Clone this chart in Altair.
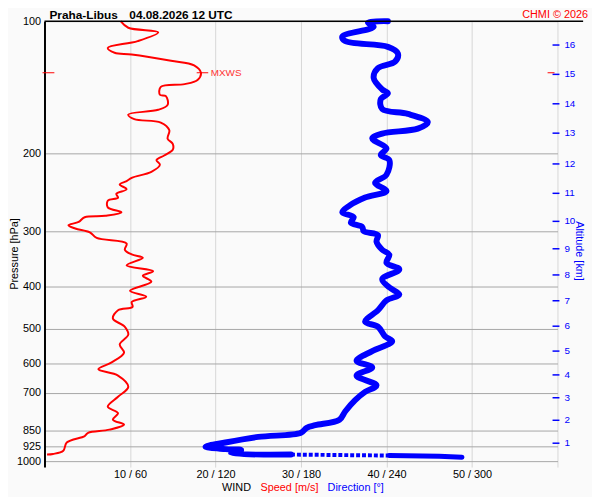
import altair as alt
import pandas as pd

# ---------------- data ----------------
# wind speed profile (pressure hPa, speed m/s)
speed_p = [100, 103.5, 106, 111, 115, 118, 119, 123, 126, 131, 136, 139, 141, 147, 148,
           155, 159, 163, 167, 170, 177, 185, 190, 196, 202, 207, 212, 220, 227, 231,
           235, 241, 247, 252, 256, 265, 272, 277, 279, 286, 291, 296, 302, 311, 320,
           331, 339, 345, 359, 370, 379, 391, 410, 423, 435, 446, 454, 474, 495, 516,
           543, 567, 597, 618, 639, 678, 714, 752, 778, 805, 826, 848, 862, 877, 907,
           947, 963, 966]
speed = [8.9, 9.8, 13.3, 10.9, 7.4, 8.2, 10.2, 14.8, 17.5, 18.3, 17.9, 16.4, 13.6, 13.5, 14.2,
         14.4, 13.3, 9.8, 10.5, 13.6, 14.6, 14.4, 15.0, 15.0, 14.0, 13.1, 13.5, 12.5, 10.2, 9.6,
         8.8, 9.6, 8.4, 8.6, 7.4, 7.4, 9.0, 7.1, 4.7, 4.0, 2.8, 3.6, 5.3, 6.1, 9.6,
         9.4, 10.2, 11.5, 9.6, 12.7, 11.5, 12.5, 10.0, 11.9, 10.2, 10.3, 8.6, 8.0, 9.4, 9.8,
         8.8, 9.3, 7.8, 6.3, 8.6, 9.8, 8.6, 7.4, 8.6, 8.0, 9.3, 7.6, 5.1, 4.7, 2.6,
         2.2, 1.0, 0.3]

# wind direction profile (pressure hPa, direction deg)
dir_p = [100, 100.7, 103, 108.4, 111, 114.4, 118.4, 123.6, 127.9, 134.6, 143, 145.9, 150.4,
         158.4, 162.5, 169.6, 175.5, 180.1, 184.8, 194.5, 201.4, 206.9, 223.4, 233.1, 243.2,
         251.7, 262.6, 271.8, 278.9, 287.1, 293.6, 300.2, 306.4, 317, 330.8, 339.4, 354.3,
         366.6, 385.8, 402.9, 418.2, 431.2, 453.9, 482.1, 494.6, 520.6, 534.1, 562.2, 591.7,
         612.1, 639.1, 672.6, 695.9, 726.5, 771.1, 805.2, 828.7, 840.2, 861.9, 881, 907.2,
         927.5, 938.9, 943.7, 959.8, 966.2, 971.2, 974.7, 979.7]
direction = [241, 227, 231, 209, 211, 241, 248, 246, 234, 231, 237, 241, 236,
             237, 255, 269, 262, 237, 230, 240, 236, 242, 240, 232, 240,
             225, 214, 209, 217, 215, 223, 224, 234, 233, 237, 242, 240,
             249, 237, 242, 249, 240, 234, 225, 234, 239, 244, 230, 219,
             230, 219, 233, 225, 218, 211, 207, 190, 184, 180, 150, 127,
             113, 127, 138, 131, 173, 242, 277, 293]

# altitude marks (km) and the pressure level where each one sits
alt_km = [1, 2, 3, 4, 5, 6, 7, 8, 9, 10, 11, 12, 13, 14, 15, 16]
alt_p = [910.4, 807.5, 717.7, 636.8, 562.2, 493.5, 432.0, 377.4, 329.1, 285.1,
         246.2, 211.1, 179.7, 154.1, 132.1, 113.3]

# maximum wind
mxws_p = [131]
mxws_speed = [18.3]
mxws_label = ["MXWS"]

p_ticks = [100, 200, 300, 400, 500, 600, 700, 850, 925, 1000]
speed_ticks = [10, 20, 30, 40, 50, 60]

title_station = ["Praha-Libus"]
title_time = ["04.08.2026 12 UTC"]
credit = ["CHMI © 2026"]
bottom_wind = ["WIND"]
bottom_speed = ["Speed [m/s]"]
bottom_dir = ["Direction [°]"]
y_title = ["Pressure [hPa]"]
alt_title = ["Altitude [km]"]

# ---------------- chart ----------------
FONT = "Liberation Sans"
W, H = 520, 452
P_MAX = 1031.5

xs = alt.Scale(domain=[0, 60], nice=False, zero=False)
ys = alt.Scale(type="log", domain=[100, P_MAX], reverse=True, nice=False)

sp = pd.DataFrame({"p": speed_p, "v": speed, "i": list(range(len(speed)))})
dr = pd.DataFrame({"p": dir_p, "d": direction, "i": list(range(len(direction)))})

x_axis = alt.Axis(values=speed_ticks,
                  labelExpr="datum.value < 60 ? datum.value + ' / ' + datum.value * 6 : ''",
                  grid=True, gridColor="#d6d6d6", gridWidth=1, domain=False, ticks=False,
                  labelFont=FONT, labelFontSize=11, labelColor="black", labelPadding=2,
                  labelFlush=False, title=None)
y_axis = alt.Axis(values=p_ticks, format="d", grid=True, gridColor="#a6a6a6", gridWidth=1,
                  domainColor="black", domainWidth=2, ticks=False, labelOverlap=False,
                  labelFont=FONT, labelFontSize=11, labelColor="black", labelPadding=4,
                  title=None)


def xpos(field="v"):
    return alt.X(f"{field}:Q", scale=xs, axis=x_axis)


def ypos():
    return alt.Y("p:Q", scale=ys, axis=y_axis)


def blue_line(df, **kw):
    return (alt.Chart(df)
            .transform_calculate(v="datum.d / 6")
            .mark_line(color="#0000ff", strokeJoin="round", **kw)
            .encode(x=xpos(), y=ypos(), order="i:Q"))


blue_a = blue_line(dr.iloc[:66], strokeWidth=6, strokeCap="round", interpolate="catmull-rom")
blue_b = blue_line(dr.iloc[65:67], strokeWidth=4, strokeDash=[4, 2], strokeCap="butt")
blue_c = blue_line(dr.iloc[66:], strokeWidth=5, strokeCap="round")

red = alt.Chart(sp).mark_line(color="#ff0000", strokeWidth=2, strokeJoin="round",
                              interpolate="catmull-rom").encode(
    x=xpos(), y=ypos(), order="i:Q")

altdf = pd.DataFrame({"p": alt_p, "km": alt_km})
alt_ticks = alt.Chart(altdf).mark_rule(color="#0000ff", strokeWidth=1.5).encode(
    y=ypos(), x=alt.value(515), x2=alt.value(522))
alt_labels = alt.Chart(altdf).mark_text(color="#0000ff", align="left", baseline="middle",
                                        font=FONT, fontSize=10).encode(
    y=ypos(), x=alt.value(527), text="km:Q")

mx = pd.DataFrame({"p": mxws_p, "v": mxws_speed, "label": mxws_label})
mx_left = alt.Chart(mx).mark_rule(color="#ff0000", strokeWidth=1).encode(
    y=ypos(), x=alt.value(-2), x2=alt.value(10))
mx_right = alt.Chart(mx).mark_rule(color="#ff0000", strokeWidth=1).encode(
    y=ypos(), x=alt.value(510), x2=alt.value(517))
mx_line = (alt.Chart(mx)
           .transform_calculate(a="datum.v - 0.5", b="datum.v + 0.85")
           .mark_rule(color="#ff0000", strokeWidth=1)
           .encode(x=xpos("a"), x2="b:Q", y=ypos()))
mx_text = alt.Chart(mx).mark_text(color="#ff3333", align="left", baseline="middle",
                                  font=FONT, fontSize=10, dx=10).encode(
    x=xpos(), y=ypos(), text="label:N")

top_line = alt.Chart(pd.DataFrame({"a": [0]})).mark_rule(color="black", strokeWidth=1.5).encode(
    x=alt.value(0), x2=alt.value(546), y=alt.value(0))


def label(txt, x, y, **kw):
    return alt.Chart(pd.DataFrame({"t": txt})).mark_text(font=FONT, **kw).encode(
        x=alt.value(x), y=alt.value(y), text="t:N")


t1 = label(title_station, 5, -2, align="left", baseline="alphabetic", fontSize=12,
           fontWeight="bold", color="black")
t2 = label(title_time, 86, -2, align="left", baseline="alphabetic", fontSize=12,
           fontWeight="bold", color="black")
t3 = label(credit, 551, -3, align="right", baseline="alphabetic", fontSize=11, color="#ff0000")
b1 = label(bottom_wind, 180, 476, align="left", baseline="alphabetic", fontSize=11, color="black")
b2 = label(bottom_speed, 219, 476, align="left", baseline="alphabetic", fontSize=11, color="#ff0000")
b3 = label(bottom_dir, 287, 476, align="left", baseline="alphabetic", fontSize=11, color="#0000ff")
yt = label(y_title, -27, 236, align="center", baseline="alphabetic", fontSize=11,
           color="black", angle=270)
at = label(alt_title, 539, 233, align="center", baseline="alphabetic", fontSize=11,
           color="#0000ff", angle=90)

chart = alt.layer(
    blue_a, blue_b, blue_c, red,
    alt_ticks, alt_labels, mx_left, mx_right, mx_line, mx_text,
    top_line, t1, t2, t3, b1, b2, b3, yt, at
).properties(
    width=W, height=H,
    padding={"left": 37, "top": 10, "right": 35, "bottom": 27},
    autosize=alt.AutoSizeParams(type="none"),
    background="#fafafa",
).configure_view(stroke=None)

chart.save("out.html", embed_options={"renderer": "svg", "actions": False})
